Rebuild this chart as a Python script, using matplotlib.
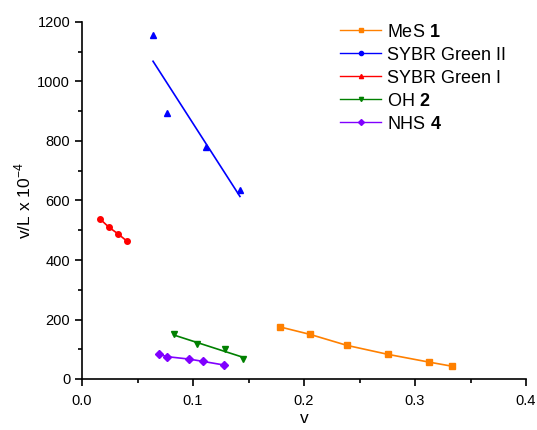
import numpy as np
import matplotlib.pyplot as plt
from matplotlib.lines import Line2D

plt.rcParams['font.family'] = ['Liberation Sans', 'DejaVu Sans']
plt.rcParams['mathtext.fontset'] = 'custom'
plt.rcParams['mathtext.rm'] = 'Liberation Sans'
plt.rcParams['mathtext.bf'] = 'Liberation Sans:bold'

# MeS 1 (orange, carrés)
mes_x = [0.1784, 0.2054, 0.2387, 0.2754, 0.3123, 0.3333]
mes_y = [175, 150, 113, 83, 57, 43]

# SYBR Green II (bleu, triangles) + droite ajustée
sg2_x = [0.0640, 0.0766, 0.1120, 0.1423]
sg2_y = [1156, 894, 781, 635]

# SYBR Green I (rouge, ronds)
sg1_x = [0.0162, 0.0243, 0.0324, 0.0403]
sg1_y = [538, 510, 488, 464]

# OH 2 (vert, triangles bas) + droite ajustée
oh_x = [0.0826, 0.1036, 0.1288, 0.1453]
oh_y = [150, 116, 102, 68]

# NHS 4 (violet, losanges)
nhs_x = [0.0694, 0.0769, 0.0964, 0.1093, 0.1279]
nhs_y = [83, 75, 67, 59, 47]

orange = "#ff8000"
blue = "#0000ff"
red = "#ff0000"
green = "#008000"
purple = "#8000ff"

fig = plt.figure(figsize=(5.37, 4.30), dpi=100)
ax = fig.add_axes([82 / 537, 1 - 379 / 430, 444 / 537, 357 / 430])

ax.plot(mes_x, mes_y, color=orange, marker="s", ms=4, lw=1.2)
ax.plot(sg1_x, sg1_y, color=red, marker="o", ms=4, lw=1.2)
ax.plot(nhs_x, nhs_y, color=purple, marker="D", ms=4, lw=1.2)

# régressions linéaires
for xs, ys, col, mk in [(sg2_x, sg2_y, blue, "^"), (oh_x, oh_y, green, "v")]:
    ax.plot(xs, ys, ls="none", marker=mk, color=col, ms=5)
    a, b = np.polyfit(xs, ys, 1)
    xl = np.array([xs[0], xs[-1]])
    ax.plot(xl, a * xl + b, color=col, lw=1.2)

ax.set_xlim(0, 0.4)
ax.set_ylim(0, 1200)
ax.set_xticks([0.0, 0.1, 0.2, 0.3, 0.4])
ax.set_xticks([0.05, 0.15, 0.25, 0.35], minor=True)
ax.set_yticks(range(0, 1201, 200))
ax.set_yticks(range(100, 1200, 200), minor=True)
ax.set_xticklabels(["0.0", "0.1", "0.2", "0.3", "0.4"])
ax.spines["top"].set_visible(False)
ax.spines["right"].set_visible(False)
ax.spines["left"].set_linewidth(1.2)
ax.spines["bottom"].set_linewidth(1.2)
ax.tick_params(which="major", length=5, width=1.2, labelsize=10.5)
ax.tick_params(axis="x", which="major", pad=6)
ax.tick_params(which="minor", length=3, width=1.2)

ax.set_xlabel("v", fontsize=12.5, labelpad=2)
ax.set_ylabel("v/L x 10$^{-4}$", fontsize=12.5, labelpad=3)

handles = [
    Line2D([], [], color=orange, marker="s", ms=3, lw=1),
    Line2D([], [], color=blue, marker="o", ms=3, lw=1),
    Line2D([], [], color=red, marker="^", ms=3, lw=1),
    Line2D([], [], color=green, marker="v", ms=3, lw=1),
    Line2D([], [], color=purple, marker="D", ms=3, lw=1),
]
labels = [r"MeS $\mathbf{1}$", "SYBR Green II", "SYBR Green I",
          r"OH $\mathbf{2}$", r"NHS $\mathbf{4}$"]
ax.legend(handles, labels, loc="upper left", bbox_to_anchor=(0.581, 0.995),
          frameon=False, fontsize=13, handlelength=2.3, handletextpad=0.33,
          labelspacing=0.33, borderaxespad=0, borderpad=0)

fig.savefig("out.png", dpi=100)
